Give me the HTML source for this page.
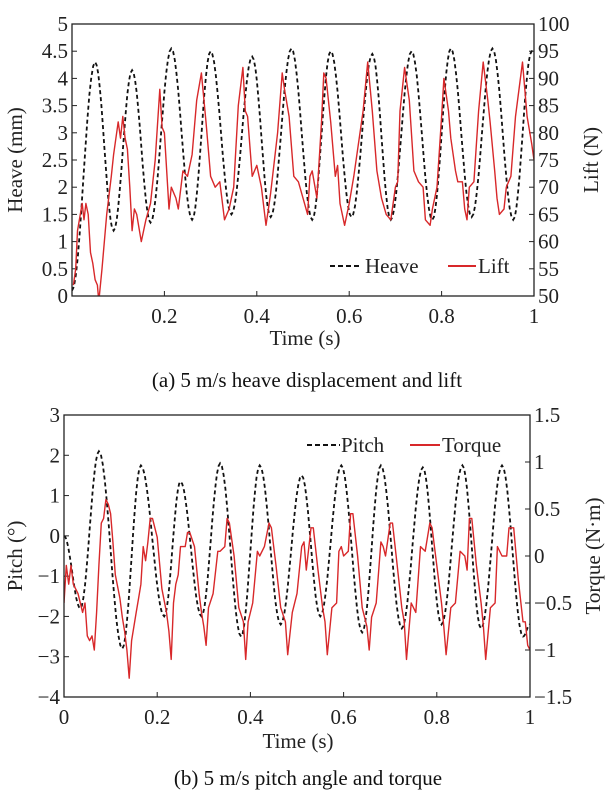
<!DOCTYPE html>
<html><head><meta charset="utf-8"><style>
body{margin:0;background:#fff;}
svg{display:block;font-family:"Liberation Serif",serif;}
</style></head><body>
<svg id="s" width="615" height="804" viewBox="0 0 615 804"></svg>
<script>
const heaveKeys=[[0,0.1],[0.05,4.3],[0.09,1.2],[0.13,4.15],[0.17,1.35],[0.215,4.55],[0.26,1.4],[0.30,4.5],[0.345,1.5],[0.39,4.4],[0.43,1.45],[0.475,4.55],[0.52,1.4],[0.56,4.5],[0.605,1.45],[0.65,4.45],[0.69,1.4],[0.735,4.5],[0.78,1.4],[0.82,4.55],[0.865,1.45],[0.91,4.55],[0.955,1.4],[0.995,4.5],[1.0,4.45]];
const liftPts=[[0.003,52],[0.008,55],[0.012,62],[0.018,65],[0.022,67],[0.026,64],[0.03,67],[0.035,65],[0.04,58],[0.045,56],[0.05,53],[0.055,52],[0.058,49],[0.065,55],[0.075,65],[0.085,72],[0.09,76],[0.095,79],[0.1,82],[0.105,79],[0.11,83],[0.115,79],[0.12,77],[0.125,70],[0.13,62],[0.135,66],[0.14,65],[0.15,60],[0.16,64],[0.17,67],[0.18,75],[0.19,88],[0.195,81],[0.2,80],[0.21,66],[0.215,70],[0.225,68],[0.23,66],[0.24,73],[0.25,72],[0.26,76],[0.27,86],[0.28,91],[0.29,82],[0.3,72],[0.31,70],[0.32,71],[0.33,64],[0.34,66],[0.35,70],[0.36,85],[0.37,92],[0.375,84],[0.38,83],[0.39,72],[0.4,74],[0.41,70],[0.42,63],[0.425,66],[0.43,69],[0.445,80],[0.455,91],[0.46,88],[0.47,83],[0.48,72],[0.49,71],[0.5,68],[0.51,65],[0.515,72],[0.52,73],[0.53,68],[0.54,82],[0.545,91],[0.55,90],[0.56,82],[0.57,72],[0.575,74],[0.58,67],[0.59,63],[0.6,67],[0.61,72],[0.63,84],[0.64,93],[0.65,84],[0.66,73],[0.67,68],[0.68,65],[0.69,64],[0.7,70],[0.705,71],[0.71,84],[0.72,92],[0.73,86],[0.74,73],[0.75,71],[0.76,70],[0.765,64],[0.775,63],[0.78,66],[0.79,70],[0.8,83],[0.805,90],[0.815,84],[0.82,79],[0.83,73],[0.835,71],[0.845,71],[0.85,66],[0.855,64],[0.86,70],[0.87,71],[0.88,84],[0.89,93],[0.9,86],[0.905,82],[0.915,73],[0.92,68],[0.925,65],[0.935,66],[0.94,70],[0.95,72],[0.96,83],[0.975,93],[0.985,83],[0.995,78],[1.0,75]];
const pitchKeys=[[0,0],[0.035,-1.8],[0.075,2.1],[0.125,-2.8],[0.165,1.75],[0.215,-2.0],[0.25,1.35],[0.295,-2.0],[0.335,1.8],[0.38,-2.5],[0.42,1.75],[0.465,-2.2],[0.51,1.5],[0.55,-2.0],[0.595,1.75],[0.64,-2.4],[0.68,1.75],[0.725,-2.3],[0.77,1.7],[0.81,-2.2],[0.855,1.75],[0.895,-2.3],[0.94,1.75],[0.985,-2.5],[1.0,-2.2]];
const torquePts=[[0,-0.5],[0.005,-0.1],[0.01,-0.3],[0.015,-0.1],[0.02,-0.3],[0.03,-0.4],[0.04,-0.6],[0.045,-0.5],[0.05,-0.85],[0.055,-0.9],[0.06,-0.85],[0.065,-1.0],[0.07,-0.6],[0.075,-0.1],[0.08,0.35],[0.085,0.4],[0.09,0.6],[0.095,0.55],[0.1,0.45],[0.105,0.15],[0.11,-0.2],[0.12,-0.45],[0.125,-0.65],[0.13,-0.8],[0.135,-1.0],[0.14,-1.3],[0.145,-0.9],[0.155,-0.6],[0.16,-0.45],[0.165,-0.3],[0.17,0.1],[0.175,-0.05],[0.18,0.15],[0.185,0.4],[0.19,0.4],[0.2,0.2],[0.21,-0.35],[0.22,-0.6],[0.225,-0.8],[0.23,-1.1],[0.235,-0.5],[0.24,-0.3],[0.245,-0.2],[0.25,0.1],[0.26,0.1],[0.265,0.25],[0.27,0.25],[0.28,0.1],[0.29,-0.4],[0.295,-0.6],[0.3,-0.75],[0.305,-0.95],[0.31,-0.55],[0.32,-0.4],[0.33,0.05],[0.335,0.05],[0.345,0.1],[0.35,0.4],[0.355,0.35],[0.365,0.0],[0.375,-0.55],[0.385,-0.7],[0.39,-1.1],[0.395,-0.7],[0.405,-0.5],[0.415,0.05],[0.42,0.0],[0.43,0.1],[0.44,0.35],[0.445,0.3],[0.455,-0.1],[0.465,-0.55],[0.475,-0.7],[0.48,-1.05],[0.49,-0.6],[0.5,-0.4],[0.51,0.1],[0.515,0.15],[0.52,-0.15],[0.53,0.3],[0.535,0.3],[0.545,-0.15],[0.555,-0.55],[0.56,-0.7],[0.565,-1.05],[0.575,-0.55],[0.585,-0.5],[0.59,0.05],[0.595,0.1],[0.6,0.0],[0.61,0.05],[0.615,0.45],[0.62,0.45],[0.63,0.0],[0.64,-0.55],[0.65,-0.75],[0.655,-1.0],[0.66,-0.65],[0.67,-0.5],[0.68,0.15],[0.685,0.1],[0.69,0.0],[0.7,0.35],[0.705,0.35],[0.715,-0.1],[0.725,-0.55],[0.73,-0.7],[0.735,-1.1],[0.745,-0.5],[0.755,-0.6],[0.765,0.1],[0.775,0.05],[0.785,0.35],[0.79,0.3],[0.8,-0.1],[0.81,-0.5],[0.815,-0.75],[0.82,-1.05],[0.83,-0.55],[0.84,-0.5],[0.85,0.05],[0.86,0.0],[0.865,-0.15],[0.87,0.4],[0.875,0.4],[0.885,-0.1],[0.895,-0.5],[0.9,-0.75],[0.905,-1.1],[0.915,-0.55],[0.925,-0.5],[0.93,0.1],[0.94,0.0],[0.95,0.0],[0.955,0.3],[0.965,0.3],[0.975,-0.25],[0.985,-0.7],[0.99,-0.7],[0.995,-0.95],[1.0,-1.0]];
const xTicksA=[0.2,0.4,0.6,0.8,1];
const xTicksB=[0,0.2,0.4,0.6,0.8,1];
const heaveTicks=["0","0.5","1","1.5","2","2.5","3","3.5","4","4.5","5"];
const liftTicks=["50","55","60","65","70","75","80","85","90","95","100"];
const pitchTicks=["−4","−3","−2","−1","0","1","2","3"];
const torqueTicks=["−1.5","−1","−0.5","0","0.5","1","1.5"];

const S=document.getElementById('s');const NS='http://www.w3.org/2000/svg';
function mk(tag,attrs,name,txt){const e=document.createElementNS(NS,tag);for(const k in attrs)e.setAttribute(k,attrs[k]);


if(txt!==undefined)e.textContent=txt;S.appendChild(e);return e;}
function smooth(keys){const out=[];for(let i=0;i<keys.length-1;i++){const [t0,v0]=keys[i],[t1,v1]=keys[i+1];for(let k=0;k<12;k++){const f=k/12;const c=(1-Math.cos(Math.PI*f))/2;out.push([t0+(t1-t0)*f,v0+(v1-v0)*c]);}}out.push(keys[keys.length-1]);return out;}
function panel(o){
 const X=t=>o.x0+(o.x1-o.x0)*t;
 const YL=v=>o.y1-(o.y1-o.y0)*(v-o.lmin)/(o.lmax-o.lmin);
 const YR=v=>o.y1-(o.y1-o.y0)*(v-o.rmin)/(o.rmax-o.rmin);
 o.lt.forEach((lab,i)=>{const v=o.lmin+i*o.lstep;const y=YL(v);
  mk('line',{x1:o.x0,x2:o.x0+5,y1:y,y2:y,stroke:'#222','stroke-width':1},o.p+'-left-tick');
  mk('text',{x:o.x0-4,y:y+7,'text-anchor':'end','font-size':21,fill:'#222'},o.p+'-left-tick-label',lab);});
 o.rt.forEach((lab,i)=>{const v=o.rmin+i*o.rstep;const y=YR(v);
  mk('line',{x1:o.x1-5,x2:o.x1,y1:y,y2:y,stroke:'#222','stroke-width':1},o.p+'-right-tick');
  mk('text',{x:o.x1+4,y:y+7,'font-size':21,fill:'#222'},o.p+'-right-tick-label',lab);});
 o.xt.forEach(t=>{const x=X(t);
  mk('line',{x1:x,x2:x,y1:o.y1,y2:o.y1-5,stroke:'#222','stroke-width':1},o.p+'-x-tick');
  mk('text',{x:x,y:o.y1+27,'text-anchor':'middle','font-size':21,fill:'#222'},o.p+'-x-tick-label',String(t));});
 const cp=o.p+'clip';const d=document.createElementNS(NS,'clipPath');d.setAttribute('id',cp);
 const r=document.createElementNS(NS,'rect');r.setAttribute('x',o.x0);r.setAttribute('y',o.y0);r.setAttribute('width',o.x1-o.x0);r.setAttribute('height',o.y1-o.y0);d.appendChild(r);S.appendChild(d);
 const ds=smooth(o.dash).map(p=>X(p[0]).toFixed(1)+','+YL(p[1]).toFixed(1)).join(' ');
 mk('polyline',{points:ds,fill:'none',stroke:'#111','stroke-width':1.8,'stroke-dasharray':'4,3','clip-path':'url(#'+cp+')'},o.p+'-dashed-series');
 const rs=o.red.map(p=>X(p[0]).toFixed(1)+','+YR(p[1]).toFixed(1)).join(' ');
 mk('polyline',{points:rs,fill:'none',stroke:'#d8282a','stroke-width':1.4,'stroke-linejoin':'round','clip-path':'url(#'+cp+')'},o.p+'-red-series');
 mk('rect',{x:o.x0,y:o.y0,width:o.x1-o.x0,height:o.y1-o.y0,fill:'none',stroke:'#222','stroke-width':1.3},o.p+'-plot-frame');
}
panel({p:'a',x0:72,x1:534,y0:24,y1:296,lmin:0,lmax:5,lstep:0.5,rmin:50,rmax:100,rstep:5,lt:heaveTicks,rt:liftTicks,xt:xTicksA,dash:heaveKeys,red:liftPts});
panel({p:'b',x0:64,x1:530,y0:415,y1:697,lmin:-4,lmax:3,lstep:1,rmin:-1.5,rmax:1.5,rstep:0.5,lt:pitchTicks,rt:torqueTicks,xt:xTicksB,dash:pitchKeys,red:torquePts});
// titles
mk('text',{x:305,y:345,'text-anchor':'middle','font-size':21,fill:'#222'},'a-x-axis-title','Time (s)');
mk('text',{x:0,y:0,transform:'translate(22,160) rotate(-90)','text-anchor':'middle','font-size':21,fill:'#222'},'a-left-axis-title','Heave (mm)');
mk('text',{x:0,y:0,transform:'translate(598,160) rotate(-90)','text-anchor':'middle','font-size':21,fill:'#222'},'a-right-axis-title','Lift (N)');
mk('text',{x:307,y:387,'text-anchor':'middle','font-size':21,fill:'#111'},'a-caption','(a) 5 m/s heave displacement and lift');
mk('text',{x:298,y:748,'text-anchor':'middle','font-size':21,fill:'#222'},'b-x-axis-title','Time (s)');
mk('text',{x:0,y:0,transform:'translate(22,556) rotate(-90)','text-anchor':'middle','font-size':21,fill:'#222'},'b-left-axis-title','Pitch (°)');
mk('text',{x:0,y:0,transform:'translate(600,556) rotate(-90)','text-anchor':'middle','font-size':21,fill:'#222'},'b-right-axis-title','Torque (N·m)');
mk('text',{x:308,y:785,'text-anchor':'middle','font-size':21,fill:'#111'},'b-caption','(b) 5 m/s pitch angle and torque');
// legends
mk('line',{x1:330,x2:362,y1:266,y2:266,stroke:'#111','stroke-width':2,'stroke-dasharray':'5,3'},'legend-heave-swatch');
mk('text',{x:365,y:273,'font-size':21,fill:'#222'},'legend-heave-label','Heave');
mk('line',{x1:448,x2:476,y1:266,y2:266,stroke:'#d8282a','stroke-width':2},'legend-lift-swatch');
mk('text',{x:478,y:273,'font-size':21,fill:'#222'},'legend-lift-label','Lift');
mk('line',{x1:307,x2:340,y1:445,y2:445,stroke:'#111','stroke-width':2,'stroke-dasharray':'5,3'},'legend-pitch-swatch');
mk('text',{x:341,y:452,'font-size':21,fill:'#222'},'legend-pitch-label','Pitch');
mk('line',{x1:410,x2:440,y1:445,y2:445,stroke:'#d8282a','stroke-width':2},'legend-torque-swatch');
mk('text',{x:442,y:452,'font-size':21,fill:'#222'},'legend-torque-label','Torque');
</script>
</body></html>
